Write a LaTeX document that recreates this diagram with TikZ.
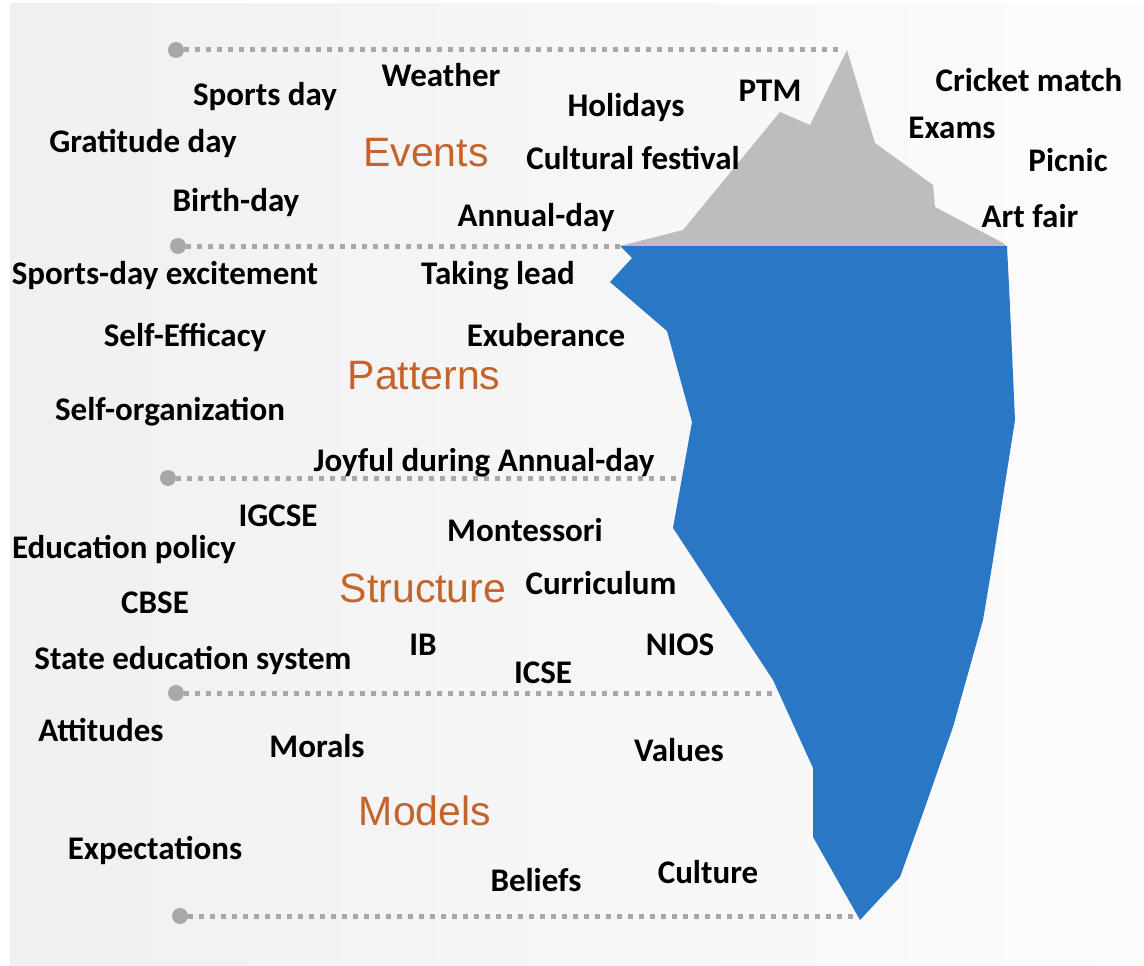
\documentclass[tikz,border=0pt]{standalone}
\usepackage{fontspec}
\setmainfont{Carlito}
\newfontfamily\catfont{Liberation Sans}
\definecolor{bgA}{HTML}{F0F0F0}
\definecolor{bgB}{HTML}{FCFCFC}
\definecolor{iceblue}{HTML}{2A77C6}
\definecolor{icegray}{HTML}{BDBDBD}
\definecolor{dotgray}{HTML}{A8A8A8}
\definecolor{catorange}{HTML}{C4642D}
\begin{document}
\begin{tikzpicture}[x=1pt,y=-1pt,
  lbl/.style={font=\fontsize{33}{36}\selectfont\bfseries, text=black, inner sep=0pt},
  cat/.style={font=\catfont\fontsize{41}{44}\selectfont, text=catorange, inner sep=0pt},
  dotline/.style={draw=dotgray, line width=5pt, dash pattern=on 5pt off 6pt},
  endcirc/.style={circle, fill=dotgray, minimum size=16pt, inner sep=0pt}]
\useasboundingbox (0,0) rectangle (1144,966);
\fill[white] (0,0) rectangle (1144,966);
\shade[left color=bgA, right color=bgB] (10,4) rectangle (1144,966);

% iceberg top
\fill[icegray] (620,246) -- (683,230) -- (780,112) -- (810,125) -- (847,50)
  -- (875,143) -- (933,185) -- (935,207) -- (1003,243) -- (1007,247) -- cycle;
% iceberg underwater
\fill[iceblue] (620,246) -- (1007,246) -- (1010,307) -- (1015,420) -- (993,560)
  -- (983,620) -- (953,727) -- (923,813) -- (900,877) -- (860,920)
  -- (813,837) -- (813,768) -- (773,680) -- (673,528) -- (692,422)
  -- (667,331) -- (610,282) -- (632,258) -- cycle;

% level lines
\node[endcirc] (c1) at (176,50) {};
\coordinate (e1) at (843,50);
\node[endcirc] (c2) at (178,246) {};
\coordinate (e2) at (620,246);
\node[endcirc] (c3) at (168,478) {};
\coordinate (e3) at (680,478);
\node[endcirc] (c4) at (176,693) {};
\coordinate (e4) at (778,693);
\node[endcirc] (c5) at (180,916) {};
\coordinate (e5) at (858,916);
\draw[dotline] (c1) -- (e1);
\draw[dotline] (c2) -- (e2);
\draw[dotline] (c3) -- (e3);
\draw[dotline] (c4) -- (e4);
\draw[dotline] (c5) -- (e5);

% categories
\node[cat] (events) at (426,153) {Events};
\node[cat] (patterns) at (424,376) {Patterns};
\node[cat] (structure) at (423,588) {Structure};
\node[cat] (models) at (425,811) {Models};

% events
\node[lbl] (weather) at (441,75) {Weather};
\node[lbl] (sportsday) at (265,97) {Sports day};
\node[lbl] (holidays) at (626,108) {Holidays};
\node[lbl] (ptm) at (770,91) {PTM};
\node[lbl] (cricket) at (1029,80) {Cricket match};
\node[lbl] (exams) at (952,128) {Exams};
\node[lbl] (gratitude) at (143,143) {Gratitude day};
\node[lbl] (cultural) at (633,158) {Cultural festival};
\node[lbl] (picnic) at (1068,160) {Picnic};
\node[lbl] (birthday) at (236,203) {Birth-day};
\node[lbl] (annual) at (536,218) {Annual-day};
\node[lbl] (artfair) at (1030,216) {Art fair};

% patterns
\node[lbl] (excite) at (165,276) {Sports-day excitement};
\node[lbl] (lead) at (498,276) {Taking lead};
\node[lbl] (efficacy) at (185,337) {Self-Efficacy};
\node[lbl] (exub) at (546,335) {Exuberance};
\node[lbl] (selforg) at (170,412) {Self-organization};
\node[lbl] (joyful) at (484,463) {Joyful during Annual-day};

% structure
\node[lbl] (igcse) at (278,516) {IGCSE};
\node[lbl] (montessori) at (525,530) {Montessori};
\node[lbl] (edpolicy) at (124,549) {Education policy};
\node[lbl] (curriculum) at (601,583) {Curriculum};
\node[lbl] (cbse) at (155,603) {CBSE};
\node[lbl] (ib) at (423,645) {IB};
\node[lbl] (nios) at (680,645) {NIOS};
\node[lbl] (state) at (193,660) {State education system};
\node[lbl] (icse) at (543,673) {ICSE};

% models
\node[lbl] (attitudes) at (101,730) {Attitudes};
\node[lbl] (morals) at (317,746) {Morals};
\node[lbl] (values) at (679,750) {Values};
\node[lbl] (expect) at (155,850) {Expectations};
\node[lbl] (beliefs) at (536,880) {Beliefs};
\node[lbl] (culture) at (708,872) {Culture};
\end{tikzpicture}
\end{document}
